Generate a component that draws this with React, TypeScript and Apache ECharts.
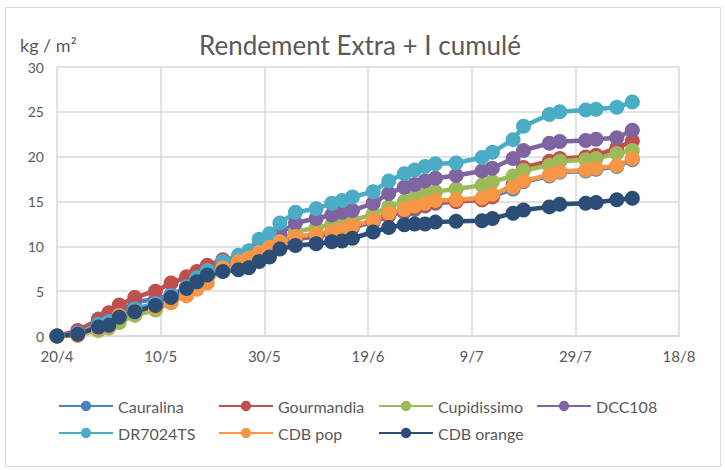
import React, { useEffect, useRef } from "react";
import * as echarts from "echarts";

const dates = ["2020-04-20","2020-04-24","2020-04-28","2020-04-30","2020-05-02","2020-05-05","2020-05-09","2020-05-12","2020-05-15","2020-05-17","2020-05-19","2020-05-22","2020-05-25","2020-05-27","2020-05-29","2020-05-31","2020-06-02","2020-06-05","2020-06-09","2020-06-12","2020-06-14","2020-06-16","2020-06-20","2020-06-23","2020-06-26","2020-06-28","2020-06-30","2020-07-02","2020-07-06","2020-07-11","2020-07-13","2020-07-17","2020-07-19","2020-07-24","2020-07-26","2020-07-31","2020-08-02","2020-08-06","2020-08-09"];

const cauralina = [0, 0.3, 1.9, 2.2, 2.6, 3.8, 4.1, 4.6, 5.1, 5.8, 6.6, 7.4, 8.0, 8.5, 9.1, 9.6, 10.2, 10.8, 11.1, 11.4, 11.7, 12.1, 12.7, 13.4, 13.8, 14.1, 14.5, 14.8, 15.0, 15.2, 15.6, 16.4, 17.2, 17.85, 18.25, 18.4, 18.6, 18.9, 19.65];
const gourmandia = [0, 0.6, 1.8, 2.6, 3.45, 4.3, 5.0, 5.9, 6.6, 7.2, 7.9, 8.5, 8.7, 9.0, 9.4, 9.8, 10.4, 10.9, 11.2, 11.5, 11.8, 12.2, 12.8, 13.5, 14.0, 14.3, 14.6, 14.9, 15.0, 15.2, 15.5, 16.9, 18.8, 19.5, 19.8, 19.95, 20.15, 20.95, 21.75];
const cupidissimo = [0, 0.1, 0.6, 0.9, 1.5, 2.3, 2.9, 3.7, 5.0, 5.8, 6.6, 7.3, 7.8, 8.3, 9.1, 9.8, 10.6, 11.6, 12.1, 12.4, 12.6, 12.9, 13.6, 14.4, 15.0, 15.5, 15.9, 16.1, 16.4, 16.8, 17.2, 17.85, 18.45, 19.05, 19.5, 19.65, 19.8, 20.35, 20.7];
const dcc108 = [0, 0.3, 1.3, 1.6, 2.3, 3.0, 3.6, 4.5, 5.5, 6.3, 7.0, 7.9, 8.5, 9.0, 10.1, 10.7, 11.4, 12.6, 13.1, 13.5, 13.8, 14.0, 14.8, 15.9, 16.6, 16.9, 17.3, 17.6, 17.9, 18.4, 18.7, 19.8, 20.7, 21.5, 21.7, 21.8, 21.95, 22.1, 22.95];
const dr7024ts = [0, 0.3, 1.3, 1.6, 2.3, 3.0, 3.6, 4.5, 5.5, 6.5, 7.3, 8.3, 9.0, 9.5, 10.8, 11.4, 12.6, 13.8, 14.2, 14.8, 15.1, 15.5, 16.1, 17.3, 18.1, 18.5, 18.9, 19.2, 19.3, 19.9, 20.5, 21.9, 23.4, 24.7, 25.0, 25.2, 25.3, 25.5, 26.1];
const cdbPop = [0, 0.05, 0.9, 1.1, 2.3, 2.7, 3.2, 3.8, 4.5, 5.2, 5.9, 7.6, 8.3, 8.7, 9.3, 9.9, 10.5, 11.1, 11.35, 11.6, 11.9, 12.3, 12.9, 13.7, 14.1, 14.5, 14.8, 15.1, 15.2, 15.4, 15.8, 16.6, 17.3, 17.95, 18.35, 18.5, 18.7, 19.0, 19.8];
const cdbOrange = [0, 0.2, 1.0, 1.2, 2.1, 2.7, 3.4, 4.3, 5.3, 6.05, 6.8, 7.2, 7.4, 7.6, 8.3, 8.8, 9.7, 10.1, 10.3, 10.5, 10.6, 10.9, 11.6, 12.1, 12.4, 12.5, 12.5, 12.7, 12.8, 12.85, 13.1, 13.7, 14.05, 14.4, 14.7, 14.8, 14.9, 15.2, 15.35];

const seriesNames = ["Cauralina", "Gourmandia", "Cupidissimo", "DCC108", "DR7024TS", "CDB pop", "CDB orange"];
const seriesValues = [cauralina, gourmandia, cupidissimo, dcc108, dr7024ts, cdbPop, cdbOrange];
const colors = ["#4F81BD", "#C0504D", "#9BBB59", "#8064A2", "#4BACC6", "#F79646", "#2C4D75"];

const xTickLabels = ["20/4", "10/5", "30/5", "19/6", "9/7", "29/7", "18/8"];
const startDate = "2020-04-20";
const dayMs = 86400000;

const FONT = "Lato, 'Liberation Sans', sans-serif";

function dayOffset(d: string) {
  return Math.round((Date.parse(d + "T00:00:00Z") - Date.parse(startDate + "T00:00:00Z")) / dayMs);
}

const legendPos = [
  [58, 398], [218, 398], [378, 398], [536, 398],
  [58, 425], [218, 425], [378, 425],
];

export default function App() {
  const ref = useRef<HTMLDivElement>(null);
  useEffect(() => {
    if (!ref.current) return;
    const chart = echarts.init(ref.current, undefined, { renderer: "svg" });
    const xs = dates.map(dayOffset);
    chart.setOption({
      animation: false,
      backgroundColor: "#ffffff",
      textStyle: { fontFamily: FONT },
      graphic: [
        {
          type: "rect",
          shape: { x: 5.5, y: 7.5, width: 715, height: 459 },
          style: { fill: "none", stroke: "#d9d9d9", lineWidth: 1 },
          silent: true,
        },
        {
          type: "text",
          x: 360,
          y: 45,
          style: {
            text: "Rendement Extra + I cumulé",
            fontSize: 26,
            fontFamily: FONT,
            fill: "#595959",
            align: "center",
            verticalAlign: "middle",
          },
        },
        {
          type: "text",
          x: 20,
          y: 45,
          style: {
            text: "kg / m²",
            fontSize: 18,
            fontFamily: FONT,
            fill: "#595959",
            align: "left",
            verticalAlign: "middle",
          },
        },
      ],
      grid: { left: 57, right: 46, top: 67, bottom: 134, containLabel: false },
      xAxis: {
        type: "value",
        min: 0,
        max: 120,
        interval: 20,
        axisLine: { show: true, lineStyle: { color: "#d9d9d9", width: 1.5 } },
        axisTick: { show: false },
        splitLine: { show: true, lineStyle: { color: "#d9d9d9", width: 1.5 } },
        axisLabel: {
          color: "#595959",
          fontSize: 15,
          fontFamily: FONT,
          margin: 12,
          formatter: (v: number) => xTickLabels[Math.round(v / 20)] ?? "",
        },
      },
      yAxis: {
        type: "value",
        min: 0,
        max: 30,
        interval: 5,
        axisLine: { show: false },
        axisTick: { show: false },
        splitLine: { show: true, lineStyle: { color: "#d9d9d9", width: 1.5 } },
        axisLabel: { color: "#595959", fontSize: 14, fontFamily: FONT, margin: 13 },
      },
      legend: seriesNames.map((n, i) => ({
        data: [n],
        left: legendPos[i][0],
        top: legendPos[i][1],
        padding: 0,
        itemWidth: 54,
        itemHeight: 13,
        selectedMode: false,
        textStyle: { color: "#595959", fontSize: 16, fontFamily: FONT },
      })),
      series: seriesNames.map((n, i) => ({
        name: n,
        type: "line",
        data: xs.map((x, j) => [x, seriesValues[i][j]]),
        symbol: "circle",
        symbolSize: 15,
        showSymbol: true,
        color: colors[i],
        lineStyle: { width: 4.5, color: colors[i] },
        itemStyle: { color: colors[i] },
      })),
    });
    return () => chart.dispose();
  }, []);
  return (
    <div
      ref={ref}
      style={{ position: "fixed", left: 0, top: 0, width: 725, height: 470 }}
    />
  );
}
